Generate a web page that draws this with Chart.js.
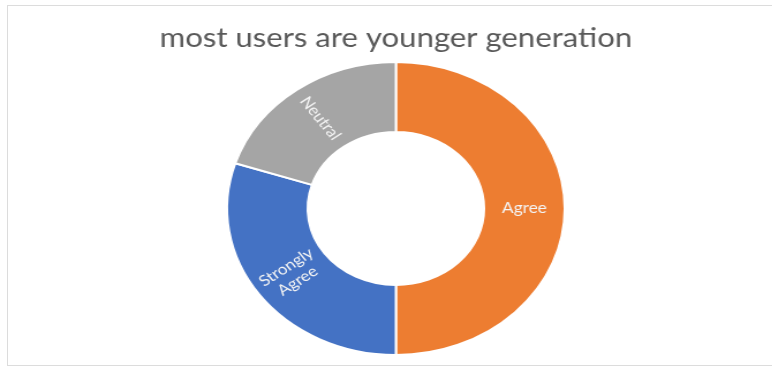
<!DOCTYPE html>
<html>
<head>
<meta charset="utf-8">
<script src="https://cdn.jsdelivr.net/npm/chart.js@4/dist/chart.umd.min.js"></script>
<style>
  html, body { margin: 0; padding: 0; background: #ffffff; overflow: hidden; width: 772px; height: 369px; }
  #frame { position: absolute; left: 7px; top: 5px; width: 780px; height: 361px; border: 1px solid #dcdcdc; box-sizing: border-box; }
  #c { position: absolute; left: 0; top: 0; transform-origin: 0 0; transform: scaleX(1.1525); }
</style>
</head>
<body>
<div id="frame"></div>
<canvas id="c" width="687" height="369"></canvas>
<script>
const titleText = "most users are younger generation";
const categories = ["Agree", "Strongly Agree", "Neutral"];
const labelLines = [["Agree"], ["Strongly", "Agree"], ["Neutral"]];
const values = [50, 30, 20];
const colors = ["#ED7D31", "#4472C4", "#A5A5A5"];

const sliceLabels = {
  id: 'sliceLabels',
  afterDatasetsDraw(chart) {
    const ctx = chart.ctx;
    const meta = chart.getDatasetMeta(0);
    meta.data.forEach((arc, i) => {
      const p = arc.getProps(['x', 'y', 'startAngle', 'endAngle', 'innerRadius', 'outerRadius'], true);
      const mid = (p.startAngle + p.endAngle) / 2;
      const r = (p.innerRadius + p.outerRadius) / 2;
      const x = p.x + Math.cos(mid) * r;
      const y = p.y + Math.sin(mid) * r;
      // rotate text along the radius, kept upright
      let rot = mid - Math.PI;
      while (rot > Math.PI / 2) rot -= Math.PI;
      while (rot < -Math.PI / 2) rot += Math.PI;
      if (Math.abs(Math.abs(rot) - Math.PI / 2) < 1e-6) rot = 0;
      ctx.save();
      ctx.translate(x, y);
      ctx.rotate(rot);
      ctx.fillStyle = "#F4F4F4";
      ctx.font = "15px Lato";
      ctx.textAlign = "center";
      ctx.textBaseline = "middle";
      const lines = labelLines[i];
      const lh = 17;
      lines.forEach((t, k) => {
        ctx.fillText(t, 0, (k - (lines.length - 1) / 2) * lh);
      });
      ctx.restore();
    });
  }
};

new Chart(document.getElementById('c'), {
  type: 'doughnut',
  data: {
    labels: categories,
    datasets: [{
      data: values,
      backgroundColor: colors,
      borderColor: "#ffffff",
      borderWidth: 2
    }]
  },
  options: {
    responsive: false,
    animation: false,
    radius: 146.5,
    cutout: 76,
    layout: { padding: { top: 0, bottom: 14, left: 0, right: 0 } },
    plugins: {
      legend: { display: false },
      tooltip: { enabled: false },
      title: {
        display: true,
        text: titleText,
        color: "#595959",
        font: { family: "Lato", size: 27, weight: "normal", lineHeight: 1.1 },
        padding: { top: 23.5, bottom: 8.8 }
      }
    }
  },
  plugins: [sliceLabels]
});
</script>
</body>
</html>
